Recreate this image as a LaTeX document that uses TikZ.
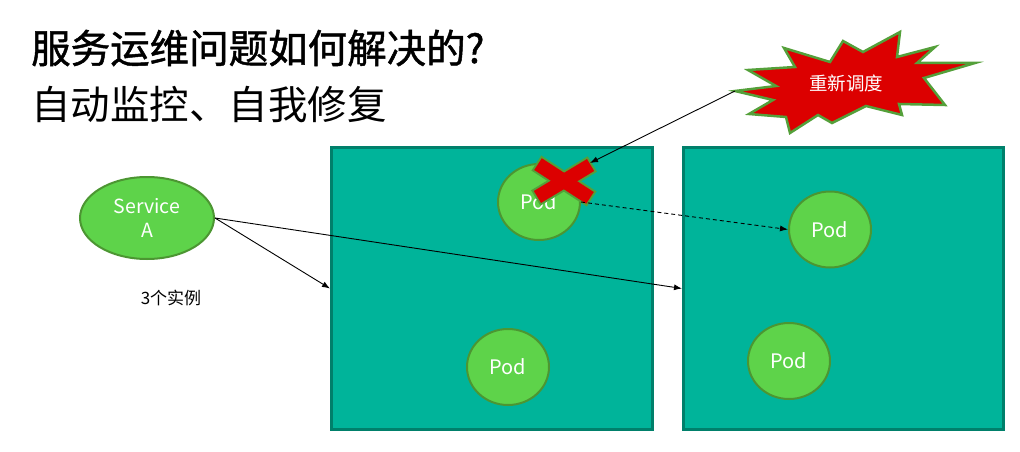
\documentclass[tikz,border=0pt]{standalone}
\usepackage{fontspec}
\setmainfont{Noto Sans CJK SC}
\newfontfamily\cjkb{Noto Sans CJK SC}[FakeBold=1.2]
\usetikzlibrary{shapes.geometric,arrows.meta}
\definecolor{boxfill}{RGB}{0,180,154}
\definecolor{boxline}{RGB}{0,128,107}
\definecolor{podfill}{RGB}{94,211,74}
\definecolor{podline}{RGB}{76,150,50}
\definecolor{starred}{RGB}{220,0,0}
\definecolor{starline}{RGB}{84,160,58}
\tikzset{
  hostbox/.style={draw=boxline,fill=boxfill,line width=3pt,minimum width=321pt,minimum height=282pt,inner sep=0pt},
  podnode/.style={ellipse,draw=podline,fill=podfill,line width=2pt,minimum width=82pt,minimum height=76pt,inner sep=0pt,text=white,font=\fontsize{20}{22}\selectfont},
  conn/.style={draw=black,line width=0.9pt,-{Latex[length=8pt,width=6pt]}},
  dashconn/.style={conn,dash pattern=on 4pt off 3pt},
  titletext/.style={anchor=west,inner sep=0pt,font=\fontsize{39.5}{42}\selectfont},
}
\begin{document}
\begin{tikzpicture}[x=1pt,y=-1pt]
\useasboundingbox (0,0) rectangle (1020,452);
% titles
\node[titletext] (t1) at (31,48) {\cjkb 服务运维问题如何解决的?};
\node[titletext] (t2) at (31,105) {自动监控、自我修复};
% host boxes
\node[hostbox] (boxL) at (492,288.5) {};
\node[hostbox,minimum width=320pt] (boxR) at (843.5,288.5) {};
% service
\node[podnode,minimum width=134pt,minimum height=82pt,align=center,font=\fontsize{19.5}{24}\selectfont] (svc) at (147,218) {Service\\A};
\node[font=\fontsize{17}{18}\selectfont,inner sep=0pt] (inst) at (171,298) {3个实例};
\draw[conn] (svc.east) -- (boxL.west);
\draw[conn] (svc.east) -- (boxR.west);
% pods
\node[podnode] (podTL) at (539,202) {Pod};
\node[podnode] (podTR) at (830,229.5) {Pod};
\node[podnode] (podBL) at (508,367) {Pod};
\node[podnode] (podBR) at (789,361) {Pod};
% red cross
\begin{scope}[shift={(564,181)}]
  \foreach \a in {31,-33} {
    \draw[starline,line width=4pt,line join=miter,rotate=\a] (-31,-7) rectangle (31,7);
  }
  \foreach \a in {31,-33} {
    \fill[starred,rotate=\a] (-31,-7) rectangle (31,7);
  }
\end{scope}
\coordinate (xtip) at (590,163);
% starburst
\draw[fill=starred,draw=starline,line width=2.5pt,line join=miter]
  (735,91) -- (776,86) -- (748,70) -- (795,67) -- (784,48) -- (830,62) -- (843,41) -- (863,52)
  -- (900,32) -- (897,57) -- (935,47) -- (917,63) -- (975,63) -- (924,78) -- (945,105)
  -- (899,104) -- (902,115) -- (866,106) -- (832,123) -- (818,115) -- (790,133) -- (786,117)
  -- (749,114) -- (773,100) -- cycle;
\coordinate (startip) at (735,91);
\node[text=white,font=\fontsize{18.5}{20}\selectfont,inner sep=0pt] (starlabel) at (846,83) {重新调度};
\draw[conn] (startip) -- (xtip);
\draw[dashconn] (podTL.east) -- (podTR.west);
\end{tikzpicture}
\end{document}
